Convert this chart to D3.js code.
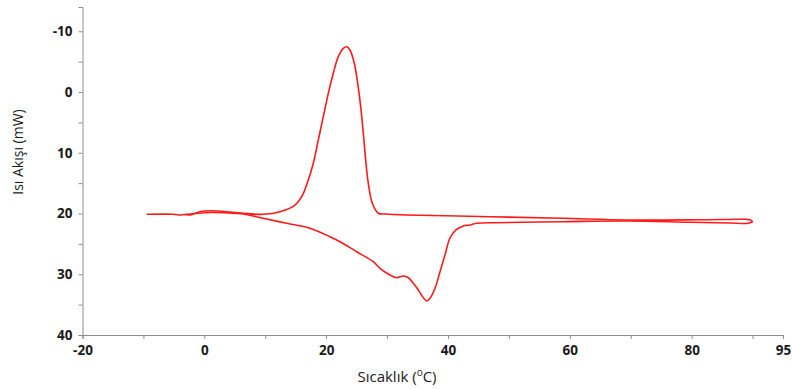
<!DOCTYPE html>
<html>
<head>
<meta charset="utf-8">
<script src="https://cdn.jsdelivr.net/npm/d3@7"></script>
<style>
  body { margin: 0; background: #fff; }
  svg { display: block; }
  .tick text { font-family: "Open Sans", sans-serif; font-weight: bold; font-size: 13.5px; fill: #1a1a1a; }
  .axis path, .axis line { stroke: #8c8c8c; }
</style>
</head>
<body>
<div id="chart"></div>
<script>
// upper branch: left -> right (peak)
let tempUp = [-9.46, -5.09, -4.0, -3.17, -2.35, -1.25, -0.05, 1.21, 2.24, 3.67, 5.04, 6.4, 9.68, 12.42, 14.89, 15.99, 17.07, 17.89, 18.71, 19.53, 20.35, 21.17, 21.99, 22.82, 23.37, 23.91, 24.62, 25.18, 25.67, 26.10, 26.49, 26.92, 27.58, 28.56, 29.66, 33.22, 46.9, 58.88, 69.34, 81.37, 88.76, 89.58, 90.03];
let flowUp = [20.13, 20.13, 20.24, 20.16, 20.24, 19.87, 19.59, 19.54, 19.59, 19.7, 19.83, 19.96, 20.13, 19.7, 18.60, 17.23, 14.48, 11.73, 7.90, 4.06, 0.21, -3.08, -5.82, -7.20, -7.46, -6.92, -4.73, -1.44, 2.41, 6.79, 11.19, 15.03, 18.32, 19.96, 20.08, 20.24, 20.52, 20.79, 21.07, 21.03, 20.95, 21.03, 21.34];
// lower branch: right -> left (dip)
let tempDown = [90.03, 89.25, 86.3, 79.73, 69.34, 58.88, 48.0, 44.72, 43.62, 42.52, 41.32, 40.33, 39.51, 38.69, 37.87, 37.05, 36.51, 35.95, 35.13, 34.31, 33.49, 32.67, 31.58, 30.48, 28.84, 27.74, 25.01, 22.27, 20.63, 17.35, 13.52, 9.68, 6.4, 3.39, 0.93, -1.53, -3.17];
let flowDown = [21.34, 21.6, 21.56, 21.44, 21.23, 21.35, 21.51, 21.61, 21.89, 22.05, 22.71, 24.03, 26.83, 29.58, 32.31, 33.96, 34.40, 33.86, 32.59, 31.49, 30.57, 30.29, 30.57, 30.12, 29.02, 27.93, 26.29, 24.64, 23.82, 22.43, 21.61, 20.79, 20.08, 19.88, 19.83, 20.0, 20.16];

let xTicks = [-20, -10, 0, 10, 20, 30, 40, 50, 60, 70, 80, 90, 95];
let xLabels = [-20, 0, 20, 40, 60, 80, 95];
let yTicks = [-10, -5, 0, 5, 10, 15, 20, 25, 30, 35, 40];
let yLabels = [-10, 0, 10, 20, 30, 40];

let width = 792;
let height = 389;

let svg = d3.select("#chart").append("svg")
    .attr("width", width)
    .attr("height", height);

let xScale = d3.scaleLinear().domain([-20, 95]).range([82.5, 783]);
let yScale = d3.scaleLinear().domain([-14, 40]).range([7, 335]);

// y axis
let yAxis = d3.axisLeft(yScale)
    .tickValues(yTicks)
    .tickSize(4)
    .tickSizeOuter(4)
    .tickPadding(6)
    .tickFormat(d => yLabels.includes(d) ? d : "");
svg.append("g")
    .attr("class", "axis")
    .attr("transform", "translate(82.5,0)")
    .call(yAxis);

// x axis
let xAxis = d3.axisBottom(xScale)
    .tickValues(xTicks)
    .tickSize(4)
    .tickSizeOuter(4)
    .tickPadding(6)
    .tickFormat(d => xLabels.includes(d) ? d : "");
svg.append("g")
    .attr("class", "axis")
    .attr("transform", "translate(0,335)")
    .call(xAxis);

// curve
let line = d3.line()
    .x(d => xScale(d[0]))
    .y(d => yScale(d[1]))
    .curve(d3.curveCatmullRom);

let upPts = tempUp.map((t, i) => [t, flowUp[i]]);
let downPts = tempDown.map((t, i) => [t, flowDown[i]]);

svg.append("path")
    .datum(upPts)
    .attr("d", line)
    .attr("fill", "none")
    .attr("stroke", "#ff1a1a")
    .attr("stroke-width", 1.6);

svg.append("path")
    .datum(downPts)
    .attr("d", line)
    .attr("fill", "none")
    .attr("stroke", "#ff1a1a")
    .attr("stroke-width", 1.6);

// axis titles
let xTitle = svg.append("text")
    .attr("x", 397)
    .attr("y", 382)
    .attr("text-anchor", "middle")
    .attr("font-family", "Open Sans, sans-serif")
    .attr("font-size", "15px")
    .attr("fill", "#1a1a1a")
    .text("Sıcaklık (");
xTitle.append("tspan")
    .attr("dy", -6)
    .attr("font-size", "10px")
    .text("o");
xTitle.append("tspan")
    .attr("dy", 6)
    .text("C)");

svg.append("text")
    .attr("transform", "translate(23,152) rotate(-90)")
    .attr("text-anchor", "middle")
    .attr("font-family", "Open Sans, sans-serif")
    .attr("font-size", "14px")
    .attr("fill", "#1a1a1a")
    .text("Isı Akışı (mW)");
</script>
</body>
</html>
